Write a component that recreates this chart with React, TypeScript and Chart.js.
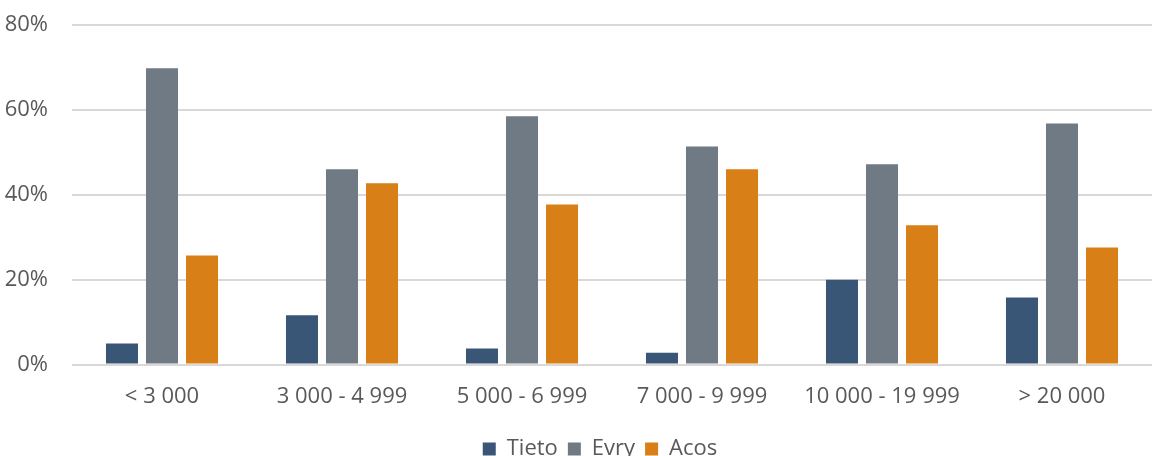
import React, { useEffect, useRef } from "react";
import { Chart, registerables } from "chart.js";

Chart.register(...registerables);

const categories = ["< 3 000", "3 000 - 4 999", "5 000 - 6 999", "7 000 - 9 999", "10 000 - 19 999", "> 20 000"];
const tieto = [5, 11.6, 3.8, 2.8, 20, 15.8];
const evry = [69.8, 46, 58.5, 51.4, 47.2, 56.8];
const acos = [25.7, 42.7, 37.7, 46, 32.8, 27.6];
const seriesNames = ["Tieto", "Evry", "Acos"];

const shiftLegend = {
  id: "shiftLegend",
  afterLayout(chart: any) {
    const lg = chart.legend;
    if (lg) {
      lg.left += 24;
      lg.right += 24;
    }
  },
};

export default function App() {
  const ref = useRef<HTMLCanvasElement | null>(null);
  useEffect(() => {
    document.body.style.margin = "0";
    const font = "'Open Sans', 'Noto Sans', sans-serif";
    const chart = new Chart(ref.current!, {
      type: "bar",
      data: {
        labels: categories,
        datasets: [
          { label: seriesNames[0], data: tieto, backgroundColor: "#3a5676" },
          { label: seriesNames[1], data: evry, backgroundColor: "#707a84" },
          { label: seriesNames[2], data: acos, backgroundColor: "#d97f18" },
        ],
      },
      plugins: [shiftLegend],
      options: {
        animation: false,
        responsive: false,
        maintainAspectRatio: false,
        layout: { padding: { top: 25, right: 0, left: 0, bottom: 0 } },
        datasets: { bar: { categoryPercentage: 0.667, barPercentage: 0.8 } },
        plugins: {
          tooltip: { enabled: false },
          legend: {
            position: "bottom",
            labels: {
              boxWidth: 13,
              boxHeight: 13,
              padding: 10,
              color: "#595959",
              font: { family: font, size: 22 },
            },
          },
        },
        scales: {
          x: {
            grid: { display: false },
            border: { display: false },
            afterFit: (s: any) => { s.height += 7; },
            ticks: { color: "#595959", font: { family: font, size: 22 }, padding: 11, maxRotation: 0 },
          },
          y: {
            min: 0,
            max: 80,
            afterFit: (s: any) => { s.width = 72; s.paddingTop = 0; s.paddingBottom = 0; },
            grid: { color: "#d9d9d9", lineWidth: 2, drawTicks: false },
            border: { display: false },
            ticks: {
              stepSize: 20,
              padding: 24,
              color: "#595959",
              font: { family: font, size: 22 },
              callback: (v: any) => v + "%",
            },
          },
        },
      },
    });
    return () => chart.destroy();
  }, []);
  return (
    <div style={{ position: "fixed", left: 0, top: 0, width: 1152, height: 456, overflow: "hidden" }}>
      <canvas ref={ref} width={1152} height={470} style={{ display: "block" }} />
    </div>
  );
}
